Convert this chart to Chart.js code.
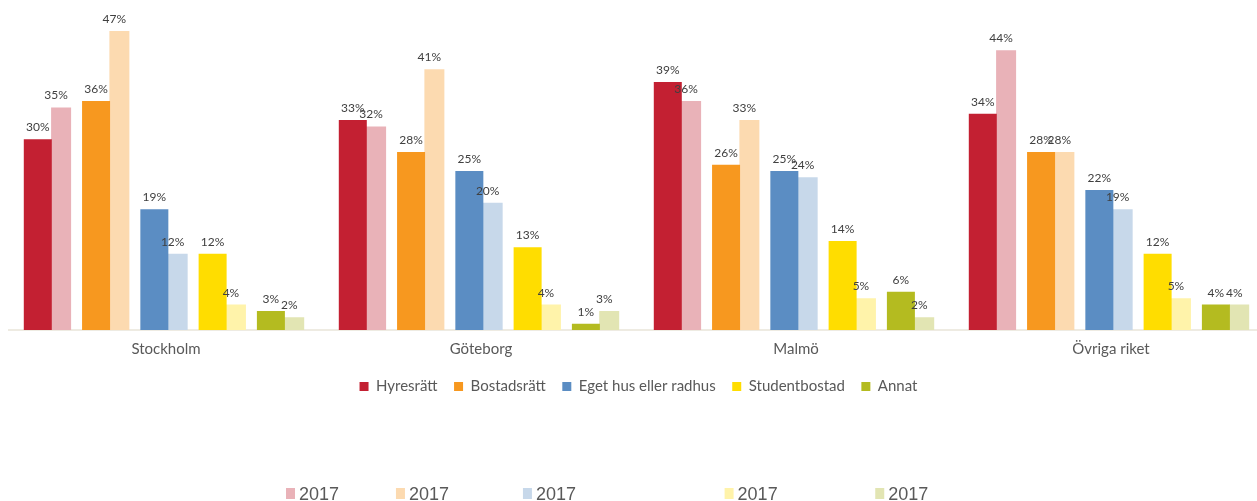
<!DOCTYPE html>
<html>
<head>
<meta charset="utf-8">
<title>Boendeform per ort</title>
<script src="https://cdn.jsdelivr.net/npm/chart.js@4.4.1/dist/chart.umd.min.js"></script>
<style>
  html, body { margin: 0; padding: 0; background: #fff; overflow: hidden; }
  #wrap { position: relative; width: 1269px; height: 501px; }
</style>
</head>
<body>
<div id="wrap"><canvas id="myChart"></canvas></div>
<script>
'use strict';

let cities = ['Stockholm', 'Göteborg', 'Malmö', 'Övriga riket'];
let housingTypes = ['Hyresrätt', 'Bostadsrätt', 'Eget hus eller radhus', 'Studentbostad', 'Annat'];
let compareLabel = '2017';

// percent per city, same order as cities
let hyresratt = [30, 33, 39, 34];
let hyresratt2017 = [35, 32, 36, 44];
let bostadsratt = [36, 28, 26, 28];
let bostadsratt2017 = [47, 41, 33, 28];
let egetHus = [19, 25, 25, 22];
let egetHus2017 = [12, 20, 24, 19];
let studentbostad = [12, 13, 14, 12];
let studentbostad2017 = [4, 4, 5, 5];
let annat = [3, 1, 6, 4];
let annat2017 = [2, 3, 2, 4];

let nowValues = [hyresratt, bostadsratt, egetHus, studentbostad, annat];
let oldValues = [hyresratt2017, bostadsratt2017, egetHus2017, studentbostad2017, annat2017];

let darkColors = ['#c32032', '#f7981f', '#5b8dc3', '#ffdd00', '#b4bb20'];
let lightColors = ['#e9b2b8', '#fcdab0', '#c7d8ea', '#fff3aa', '#e2e5b3'];

// empty dataset, only takes a slot so the pairs get some air between them
function spacer() {
  return { label: '', data: [], kind: 'spacer' };
}

let datasets = [];
for (let i = 0; i < housingTypes.length; i++) {
  datasets.push(spacer());
  datasets.push({
    label: housingTypes[i],
    data: nowValues[i],
    kind: 'now',
    backgroundColor: darkColors[i],
    barPercentage: 3,
    maxBarThickness: 28
  });
  datasets.push(spacer());
  datasets.push({
    label: compareLabel,
    data: oldValues[i],
    kind: 'old',
    backgroundColor: lightColors[i],
    barPercentage: 2,
    maxBarThickness: 20
  });
  datasets.push(spacer());
}

const valueLabels = {
  id: 'valueLabels',
  afterDatasetsDraw(chart) {
    let ctx = chart.ctx;
    ctx.save();
    ctx.font = '12px Lato';
    ctx.fillStyle = '#404040';
    ctx.textAlign = 'center';
    ctx.textBaseline = 'alphabetic';
    chart.data.datasets.forEach((ds, i) => {
      if (ds.kind === 'spacer') return;
      let meta = chart.getDatasetMeta(i);
      let shift = ds.kind === 'old' ? -5 : 0;
      meta.data.forEach((bar, j) => {
        ctx.fillText(ds.data[j] + '%', bar.x + shift, bar.y - 8);
      });
    });
    ctx.restore();
  }
};

// second legend row with the 2017 series, spaced like the names above it
const oldLegend = {
  id: 'oldLegend',
  afterDraw(chart, args, opts) {
    let ctx = chart.ctx;
    ctx.save();
    ctx.textBaseline = 'alphabetic';
    ctx.textAlign = 'left';
    let x = opts.left;
    housingTypes.forEach((name, i) => {
      ctx.fillStyle = lightColors[i];
      ctx.fillRect(x, opts.top, 9, 11);
      ctx.font = '18px "Liberation Sans", Arial, sans-serif';
      ctx.fillStyle = '#595959';
      ctx.fillText(compareLabel, x + 13, opts.top + 12);
      ctx.font = '17px "Liberation Sans", Arial, sans-serif';
      x += 41 + ctx.measureText(name).width;
    });
    ctx.restore();
  }
};

let ctx = document.getElementById('myChart');
let myChart = new Chart(ctx, {
  type: 'bar',
  data: {
    labels: cities,
    datasets: datasets
  },
  options: {
    responsive: true,
    maintainAspectRatio: false,
    animation: false,
    devicePixelRatio: 1,
    layout: {
      padding: { top: 12, bottom: 97, left: 8.5, right: 0.5 }
    },
    datasets: {
      bar: { categoryPercentage: 0.925 }
    },
    scales: {
      x: {
        grid: { display: false, drawTicks: false },
        border: { display: true, color: '#eeebe2', width: 2 },
        ticks: {
          color: '#595959',
          padding: 10,
          font: { family: 'Lato', size: 15 }
        },
        afterFit(scale) {
          scale.height = 32.5;
        }
      },
      y: {
        display: false,
        min: 0,
        max: 50
      }
    },
    plugins: {
      tooltip: { enabled: false },
      legend: {
        position: 'bottom',
        labels: {
          boxWidth: 9,
          boxHeight: 9,
          padding: 16.5,
          color: '#595959',
          font: { family: 'Lato', size: 15 },
          filter: (item, data) => data.datasets[item.datasetIndex].kind === 'now'
        }
      },
      oldLegend: { left: 286, top: 488 }
    }
  },
  plugins: [valueLabels, oldLegend]
});
</script>
</body>
</html>
